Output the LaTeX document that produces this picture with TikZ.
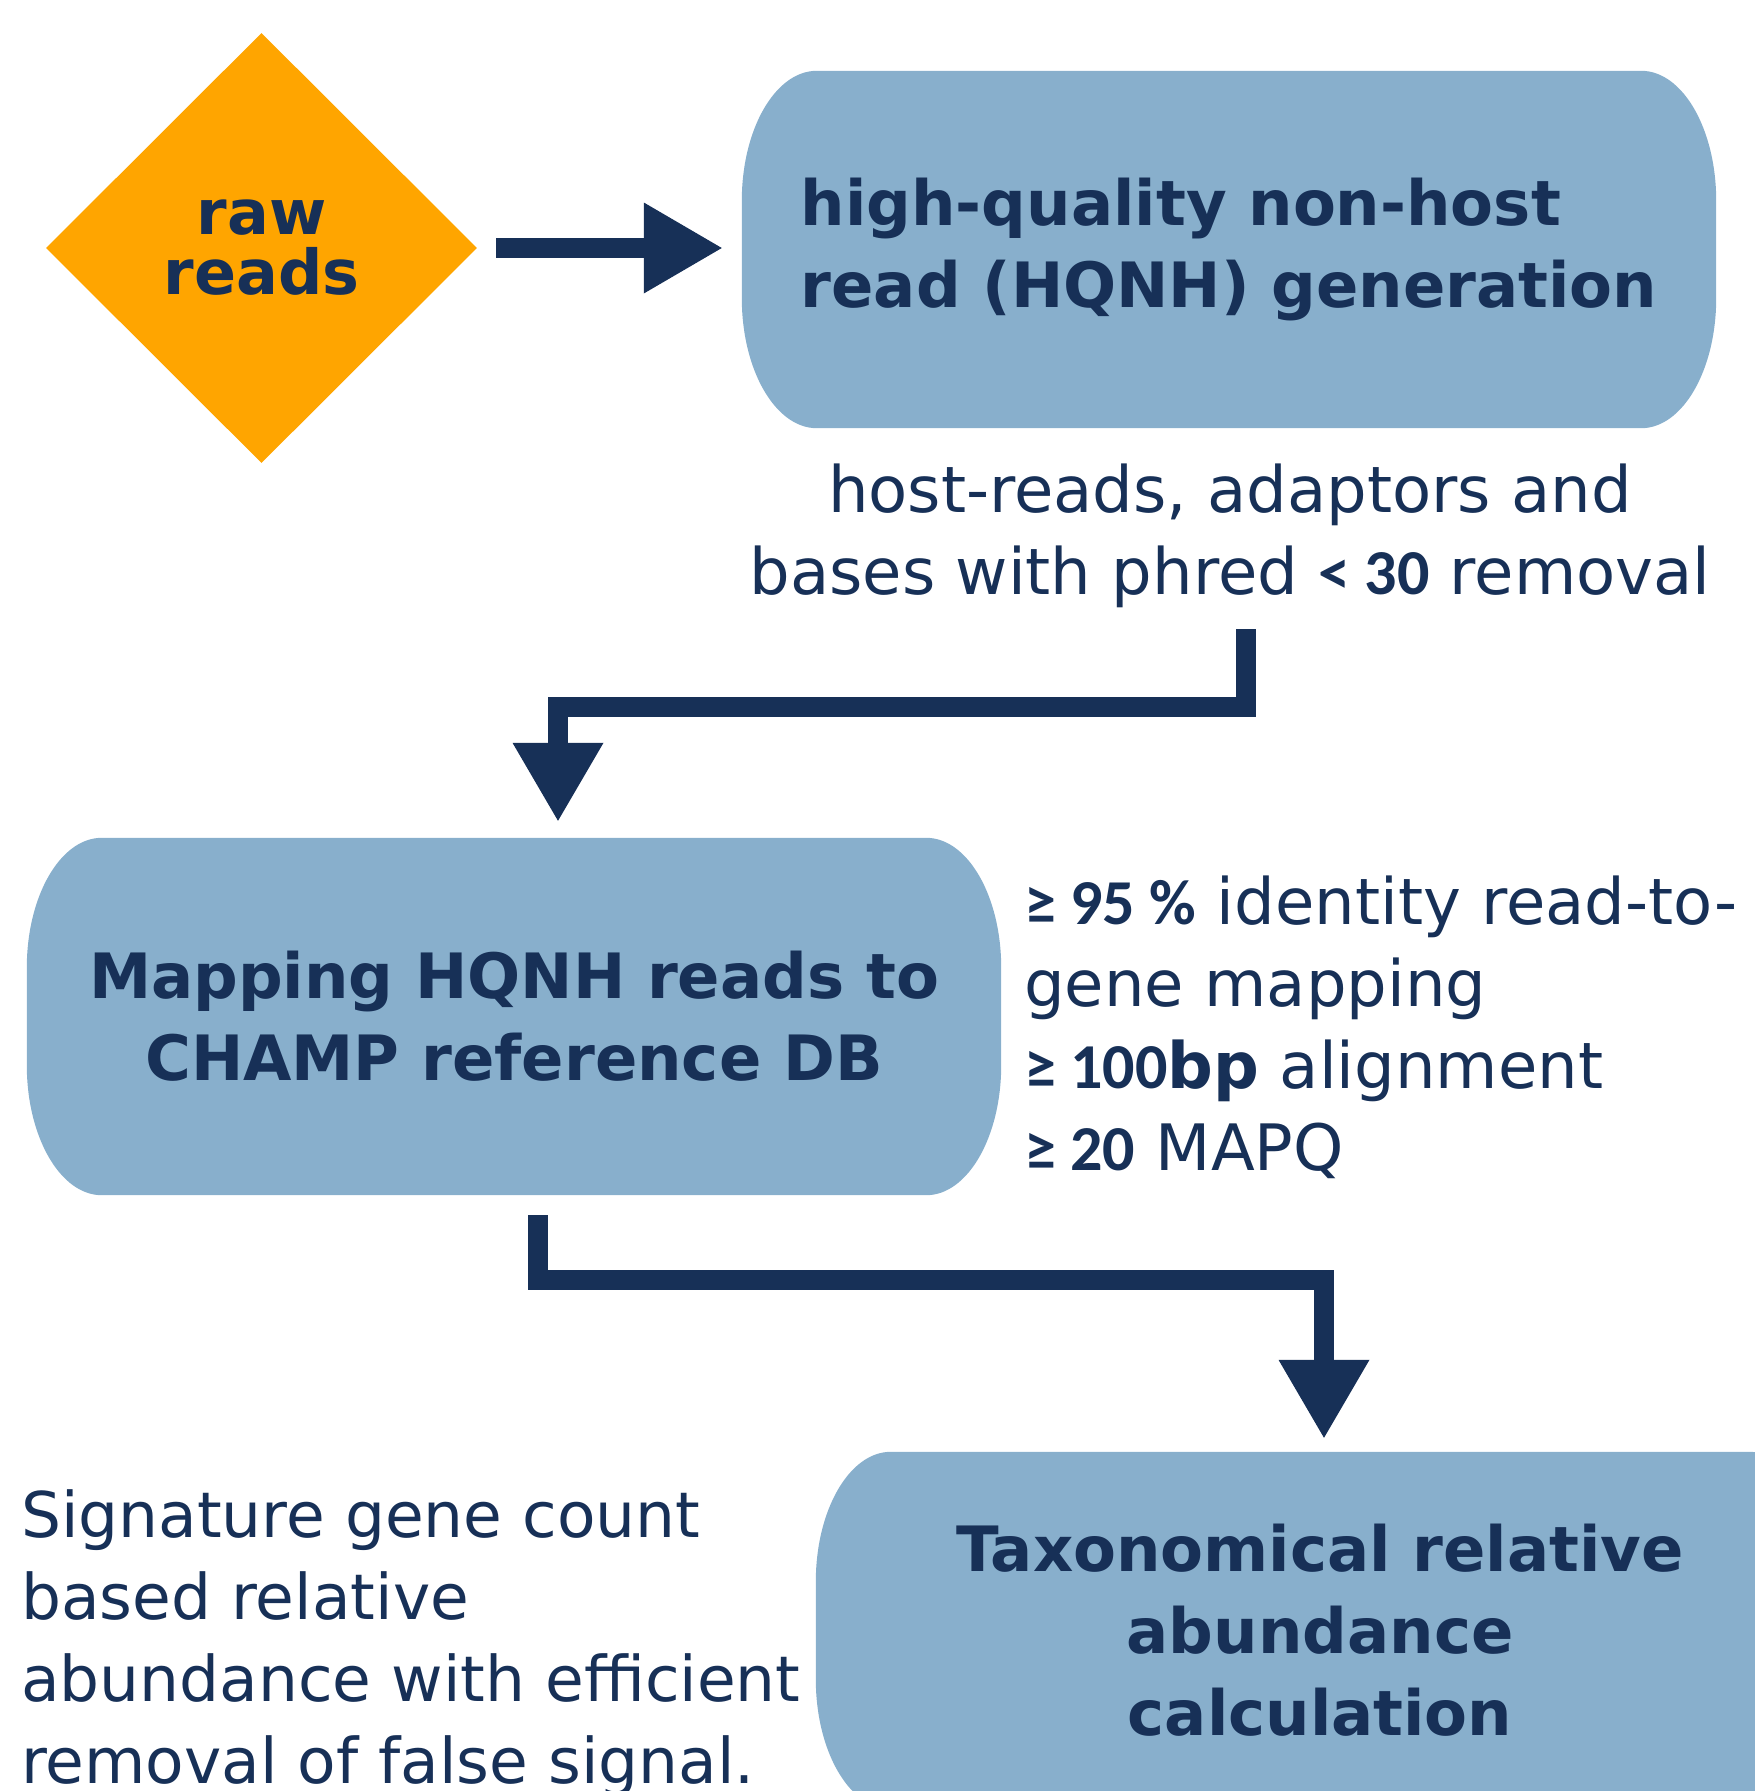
\documentclass[tikz,border=0pt]{standalone}
\usepackage{fontspec}
\setmainfont{DejaVu Sans}
\newfontfamily\califont{Carlito}
\usetikzlibrary{shapes.geometric,arrows.meta,calc,backgrounds}
\definecolor{navy}{HTML}{173057}
\definecolor{boxblue}{HTML}{88AFCC}
\definecolor{gold}{HTML}{FFA500}
\newcommand\numb[1]{{\califont\bfseries #1}}
\newcommand\ovalfill[1]{%
  \fill[boxblue] ($(#1.north west)+(75,0)$) -- ($(#1.north east)+(-75,0)$)
    .. controls +(41.4,0) and +(0,-71.8) .. ($(#1.north east)+(0,130)$)
    -- ($(#1.south east)+(0,-130)$)
    .. controls +(0,71.8) and +(41.4,0) .. ($(#1.south east)+(-75,0)$)
    -- ($(#1.south west)+(75,0)$)
    .. controls +(-41.4,0) and +(0,71.8) .. ($(#1.south west)+(0,-130)$)
    -- ($(#1.north west)+(0,130)$)
    .. controls +(0,-71.8) and +(-41.4,0) .. ($(#1.north west)+(75,0)$) -- cycle;}
\tikzset{
  txt/.style={font=\fontsize{64}{82}\selectfont, text=navy, inner sep=0pt},
  boxnode/.style={font=\fontsize{62.5}{82}\selectfont\bfseries, text=navy, minimum height=357pt, inner sep=0pt},
  arr/.style={draw=navy, line width=20pt, line join=miter,
    -{Triangle[length=78pt,width=91pt,line width=0pt]}},
}
\begin{document}
\begin{tikzpicture}[x=1pt,y=-1pt]
\useasboundingbox (0,0) rectangle (1754,1791);
\clip (0,0) rectangle (1754,1791);
\node[diamond, fill=gold, minimum width=431pt, minimum height=430pt, inner sep=0pt,
      align=center, text=navy, font=\fontsize{62}{60}\selectfont\bfseries] (raw) at (261.5,248) {raw\\reads};
\node[boxnode, minimum width=974pt, align=left] (hq) at (1229,249.5) {high-quality non-host\\read (HQNH) generation};
\node[boxnode, minimum width=974pt, align=center] (map) at (514,1016.5) {Mapping HQNH reads to\\CHAMP reference DB};
\node[boxnode, minimum width=1008pt, align=center] (tax) at (1320,1630.5) {Taxonomical relative\\abundance\\calculation};
\node[txt, align=center] (qc) at (1230,535.5) {host-reads, adaptors and\\bases with phred \numb{< 30} removal};
\node[txt, align=left, anchor=west] (crit) at (1024,1027) {\numb{≥ 95 \%} identity read-to-\\gene mapping\\\numb{≥ 100}\textbf{bp} alignment\\\numb{≥ 20} MAPQ};
\node[txt, align=left, anchor=west, font=\fontsize{63}{82}\selectfont] (sig) at (21,1643.5) {Signature gene count\\based relative\\abundance with efficient\\removal of false signal.};
\begin{scope}[on background layer]
  \ovalfill{hq}
  \ovalfill{map}
  \ovalfill{tax}
\end{scope}
\coordinate (a2s) at (1246,629);
\coordinate (a2k) at (558,707);
\coordinate (a3s) at (538,1215);
\coordinate (a3k) at (1324,1280);
\draw[arr, shorten <=19pt, shorten >=20pt] (raw.east) -- (raw.east -| hq.west);
\draw[arr, shorten >=17pt] (a2s) |- (a2k) -- (a2k |- map.north);
\draw[arr, shorten >=14pt] (a3s) |- (a3k) -- (a3k |- tax.north);
\end{tikzpicture}
\end{document}
